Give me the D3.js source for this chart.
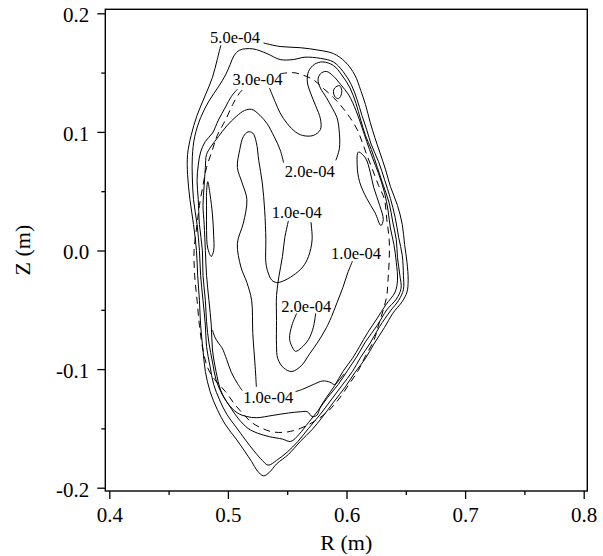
<!DOCTYPE html>
<html>
<head>
<meta charset="utf-8">
<script src="https://cdn.jsdelivr.net/npm/d3@7"></script>
<style>
  body { margin: 0; background: #fff; }
  text { font-family: "Liberation Serif", "Times New Roman", serif; fill: #000; }
</style>
</head>
<body>
<svg id="chart" width="603" height="556"></svg>
<script>
// axis ticks
const rTicks = [0.4, 0.5, 0.6, 0.7, 0.8];
const rMinor = [0.45, 0.55, 0.65, 0.75];
const zTicks = [-0.2, -0.1, 0.0, 0.1, 0.2];
const zMinor = [-0.15, -0.05, 0.05, 0.15];

// contour lines, [R, Z] in metres
// outermost (5.0e-04), open where its label sits
const level5 = [[0.530,0.175],[0.544,0.172],[0.561,0.171],[0.576,0.169],[0.589,0.166],[0.599,0.159],[0.607,0.148],[0.612,0.135],[0.616,0.123],[0.620,0.108],[0.624,0.095],[0.628,0.083],[0.633,0.068],[0.637,0.054],[0.643,0.038],[0.647,0.022],[0.649,0.005],[0.651,-0.010],[0.652,-0.025],[0.651,-0.035],[0.647,-0.043],[0.639,-0.053],[0.632,-0.065],[0.623,-0.079],[0.616,-0.091],[0.607,-0.103],[0.599,-0.115],[0.589,-0.128],[0.580,-0.140],[0.571,-0.151],[0.561,-0.161],[0.551,-0.172],[0.541,-0.180],[0.535,-0.187],[0.530,-0.190],[0.525,-0.186],[0.520,-0.178],[0.514,-0.169],[0.507,-0.159],[0.498,-0.147],[0.491,-0.134],[0.485,-0.119],[0.481,-0.102],[0.479,-0.084],[0.477,-0.063],[0.476,-0.042],[0.4745,-0.021],[0.4735,0.000],[0.471,0.022],[0.468,0.043],[0.466,0.064],[0.466,0.081],[0.469,0.097],[0.474,0.114],[0.481,0.131],[0.487,0.146],[0.491,0.161],[0.494,0.173]];

// second line, closed
const level4 = [[0.510,0.169],[0.521,0.170],[0.533,0.166],[0.544,0.161],[0.555,0.161],[0.565,0.163],[0.578,0.162],[0.589,0.159],[0.597,0.151],[0.604,0.140],[0.609,0.127],[0.613,0.114],[0.617,0.102],[0.621,0.089],[0.627,0.075],[0.632,0.060],[0.637,0.044],[0.641,0.028],[0.644,0.011],[0.647,-0.004],[0.648,-0.021],[0.648,-0.033],[0.644,-0.042],[0.637,-0.051],[0.628,-0.064],[0.620,-0.078],[0.612,-0.090],[0.605,-0.102],[0.596,-0.114],[0.587,-0.126],[0.578,-0.138],[0.568,-0.150],[0.559,-0.161],[0.550,-0.170],[0.541,-0.177],[0.534,-0.181],[0.529,-0.177],[0.522,-0.169],[0.515,-0.160],[0.507,-0.149],[0.499,-0.138],[0.493,-0.126],[0.488,-0.113],[0.485,-0.098],[0.482,-0.081],[0.481,-0.063],[0.479,-0.042],[0.477,-0.021],[0.476,0.000],[0.474,0.022],[0.471,0.043],[0.470,0.062],[0.470,0.079],[0.472,0.096],[0.477,0.112],[0.484,0.126],[0.492,0.138],[0.498,0.148],[0.502,0.157],[0.505,0.164]];

// 3.0e-04 with the pocket at the top
const level3 = [[0.535,0.137],[0.540,0.125],[0.544,0.116],[0.550,0.107],[0.557,0.100],[0.563,0.097],[0.572,0.097],[0.578,0.102],[0.578,0.111],[0.574,0.122],[0.570,0.132],[0.567,0.142],[0.568,0.151],[0.573,0.157],[0.580,0.159],[0.589,0.156],[0.596,0.148],[0.603,0.137],[0.608,0.124],[0.612,0.110],[0.616,0.097],[0.621,0.085],[0.626,0.070],[0.631,0.055],[0.636,0.040],[0.639,0.024],[0.642,0.009],[0.643,-0.006],[0.645,-0.021],[0.646,-0.032],[0.642,-0.041],[0.634,-0.050],[0.626,-0.063],[0.616,-0.077],[0.609,-0.089],[0.601,-0.101],[0.593,-0.113],[0.584,-0.124],[0.576,-0.135],[0.568,-0.145],[0.560,-0.155],[0.553,-0.161],[0.546,-0.159],[0.535,-0.157],[0.525,-0.154],[0.517,-0.150],[0.509,-0.142],[0.502,-0.132],[0.495,-0.121],[0.490,-0.109],[0.487,-0.094],[0.484,-0.078],[0.482,-0.060],[0.481,-0.042],[0.479,-0.021],[0.4785,0.000],[0.476,0.022],[0.475,0.043],[0.474,0.059],[0.475,0.072],[0.477,0.083],[0.481,0.092],[0.487,0.099],[0.492,0.110],[0.498,0.121],[0.503,0.130],[0.508,0.136]];

// 2.0e-04, upper part
const level2 = [[0.547,0.074],[0.544,0.085],[0.539,0.096],[0.533,0.107],[0.527,0.114],[0.520,0.119],[0.514,0.118],[0.507,0.113],[0.499,0.105],[0.492,0.096],[0.486,0.088],[0.482,0.081],[0.481,0.070],[0.480,0.055],[0.479,0.038],[0.480,0.022],[0.481,0.000],[0.482,-0.021],[0.484,-0.042],[0.486,-0.063],[0.487,-0.084],[0.490,-0.102],[0.494,-0.118],[0.500,-0.129],[0.508,-0.137],[0.516,-0.140],[0.524,-0.141],[0.538,-0.139],[0.551,-0.137],[0.561,-0.136],[0.567,-0.136],[0.571,-0.140],[0.575,-0.139],[0.578,-0.132],[0.583,-0.124],[0.590,-0.114],[0.597,-0.102],[0.605,-0.091],[0.611,-0.081],[0.618,-0.069],[0.626,-0.057],[0.633,-0.046],[0.641,-0.035],[0.643,-0.025],[0.642,-0.010],[0.640,0.005],[0.637,0.019],[0.635,0.034],[0.632,0.049],[0.627,0.065],[0.622,0.078],[0.617,0.092],[0.613,0.104],[0.608,0.118],[0.602,0.131],[0.595,0.140],[0.589,0.147],[0.583,0.151],[0.578,0.149],[0.576,0.144],[0.578,0.137],[0.583,0.129],[0.588,0.120],[0.592,0.112],[0.594,0.099],[0.594,0.086],[0.591,0.076]];

// dashed boundary
const boundary = [[0.544,0.149],[0.555,0.150],[0.563,0.148],[0.572,0.144],[0.579,0.138],[0.589,0.129],[0.597,0.120],[0.603,0.112],[0.609,0.102],[0.613,0.092],[0.617,0.081],[0.622,0.068],[0.627,0.055],[0.632,0.043],[0.634,0.026],[0.636,0.009],[0.636,-0.008],[0.635,-0.025],[0.634,-0.038],[0.631,-0.050],[0.627,-0.063],[0.623,-0.076],[0.616,-0.089],[0.610,-0.101],[0.602,-0.113],[0.593,-0.126],[0.584,-0.136],[0.573,-0.144],[0.561,-0.150],[0.550,-0.153],[0.538,-0.153],[0.529,-0.150],[0.520,-0.145],[0.514,-0.139],[0.506,-0.130],[0.498,-0.119],[0.489,-0.109],[0.483,-0.099],[0.479,-0.084],[0.476,-0.063],[0.474,-0.042],[0.472,-0.021],[0.4715,0.000],[0.474,0.022],[0.476,0.038],[0.479,0.055],[0.482,0.070],[0.487,0.085],[0.491,0.097],[0.498,0.110],[0.504,0.123],[0.510,0.133],[0.515,0.138]];

// 1.0e-04 tall loop
const innerTall = [[0.524,-0.115],[0.523,-0.098],[0.521,-0.070],[0.520,-0.042],[0.516,-0.027],[0.511,-0.014],[0.508,0.006],[0.513,0.023],[0.516,0.043],[0.512,0.057],[0.508,0.070],[0.510,0.085],[0.513,0.096],[0.517,0.100],[0.521,0.099],[0.524,0.091],[0.526,0.076],[0.529,0.057],[0.531,0.034],[0.532,0.009],[0.532,-0.010],[0.534,-0.019],[0.537,-0.025],[0.541,-0.027],[0.546,-0.026],[0.555,-0.021],[0.563,-0.014],[0.568,-0.005],[0.571,0.009],[0.570,0.024]];
// 1.0e-04 around the lower 2.0e-04 region
const innerRight = [[0.551,0.025],[0.548,0.011],[0.546,-0.005],[0.543,-0.022],[0.541,-0.038],[0.541,-0.059],[0.541,-0.080],[0.542,-0.091],[0.547,-0.099],[0.554,-0.102],[0.562,-0.097],[0.569,-0.087],[0.576,-0.077],[0.582,-0.067],[0.586,-0.059],[0.592,-0.044],[0.597,-0.031],[0.601,-0.019],[0.605,-0.009]];
// small 2.0e-04 loop below its label
const innerLow = [[0.558,-0.053],[0.554,-0.063],[0.552,-0.074],[0.554,-0.081],[0.557,-0.085],[0.562,-0.082],[0.568,-0.075],[0.572,-0.065],[0.574,-0.053]];
// lower-left tail into the lower 1.0e-04 label, and its right branch
const tailLeft = [[0.487,-0.067],[0.489,-0.073],[0.492,-0.078],[0.495,-0.082],[0.499,-0.092],[0.503,-0.103],[0.508,-0.112],[0.512,-0.118]];
const tailRight = [[0.557,-0.119],[0.563,-0.117],[0.572,-0.113],[0.580,-0.110],[0.586,-0.111],[0.590,-0.113],[0.594,-0.109],[0.598,-0.104]];
// islands
const islandLeft = [[0.483,0.058],[0.485,0.047],[0.487,0.030],[0.488,0.013],[0.488,0.000],[0.486,-0.005],[0.483,0.002],[0.482,0.017],[0.482,0.034],[0.482,0.049]];
const islandRight = [[0.610,0.083],[0.609,0.072],[0.611,0.058],[0.617,0.044],[0.624,0.032],[0.629,0.021],[0.631,0.026],[0.628,0.038],[0.623,0.053],[0.620,0.066],[0.616,0.078]];
const islandTop = [[0.590,0.137],[0.594,0.139],[0.596,0.135],[0.595,0.130],[0.593,0.128],[0.590,0.130],[0.589,0.134]];

// contour labels
const labelLevels = [5e-4, 3e-4, 2e-4, 1e-4, 1e-4, 2e-4, 1e-4];
const labelR = [0.506, 0.525, 0.569, 0.558, 0.608, 0.566, 0.534];
const labelZ = [0.180, 0.144, 0.067, 0.032, -0.002, -0.047, -0.124];

const svg = d3.select('#chart');
const x = d3.scaleLinear().domain([0.4, 0.8]).range([109.3, 583.7]);
const y = d3.scaleLinear().domain([-0.2, 0.2]).range([487.7, 13.3]);
const frame = { left: 105.3, right: 587.3, top: 9.3, bottom: 491 };
const serif = '"Liberation Serif", "Times New Roman", serif';

// 坐标轴
const xAxis = svg.append('g')
  .attr('transform', `translate(0,${frame.bottom})`)
  .call(d3.axisBottom(x).tickValues(rTicks).tickSize(8).tickFormat(d => d.toFixed(1)));
const xMinor = svg.append('g')
  .attr('transform', `translate(0,${frame.bottom})`)
  .call(d3.axisBottom(x).tickValues(rMinor).tickSize(4).tickFormat(''));
const yAxis = svg.append('g')
  .attr('transform', `translate(${frame.left},0)`)
  .call(d3.axisLeft(y).tickValues(zTicks).tickSize(8).tickFormat(d => d.toFixed(1)));
const yMinor = svg.append('g')
  .attr('transform', `translate(${frame.left},0)`)
  .call(d3.axisLeft(y).tickValues(zMinor).tickSize(4).tickFormat(''));

[xAxis, xMinor, yAxis, yMinor].forEach((g) => {
  g.select('.domain').remove();
  g.attr('font-family', serif).attr('font-size', 21);
  g.selectAll('line').attr('stroke', '#000').attr('stroke-width', 1.3);
});
xAxis.selectAll('text').attr('y', 30.7).attr('dy', 0);
yAxis.selectAll('text').attr('x', -16).attr('dy', '0.4em');

svg.append('rect')
  .attr('x', frame.left)
  .attr('y', frame.top)
  .attr('width', frame.right - frame.left)
  .attr('height', frame.bottom - frame.top)
  .attr('fill', 'none')
  .attr('stroke', '#000')
  .attr('stroke-width', 1.4);

svg.append('text')
  .attr('x', (frame.left + frame.right) / 2)
  .attr('y', 550)
  .attr('text-anchor', 'middle')
  .attr('font-size', 22)
  .text('R (m)');
svg.append('text')
  .attr('transform', `translate(30,${(frame.top + frame.bottom) / 2}) rotate(-90)`)
  .attr('text-anchor', 'middle')
  .attr('font-size', 22)
  .text('Z (m)');

// 等值线
const line = d3.line().x(d => x(d[0])).y(d => y(d[1])).curve(d3.curveCatmullRom.alpha(0.5));
const loop = d3.line().x(d => x(d[0])).y(d => y(d[1])).curve(d3.curveCatmullRomClosed.alpha(0.5));
const plot = svg.append('g').attr('fill', 'none').attr('stroke', '#000').attr('stroke-width', 1);

[level5, level3, level2, innerTall, innerRight, innerLow, tailLeft, tailRight].forEach((pts) => {
  plot.append('path').attr('d', line(pts));
});
[level4, islandLeft, islandRight, islandTop].forEach((pts) => {
  plot.append('path').attr('d', loop(pts));
});
plot.append('path')
  .attr('d', line(boundary))
  .attr('stroke-dasharray', '7,5');

const fmtLevel = (v) => {
  const [m, e] = v.toExponential(1).split('e');
  const n = +e;
  return `${m}e${n < 0 ? '-' : '+'}${String(Math.abs(n)).padStart(2, '0')}`;
};
svg.append('g').selectAll('text')
  .data(labelLevels)
  .enter()
  .append('text')
  .attr('x', (d, i) => x(labelR[i]))
  .attr('y', (d, i) => y(labelZ[i]))
  .attr('dy', '0.35em')
  .attr('text-anchor', 'middle')
  .attr('font-size', 16.5)
  .text(d => fmtLevel(d));
</script>
</body>
</html>
